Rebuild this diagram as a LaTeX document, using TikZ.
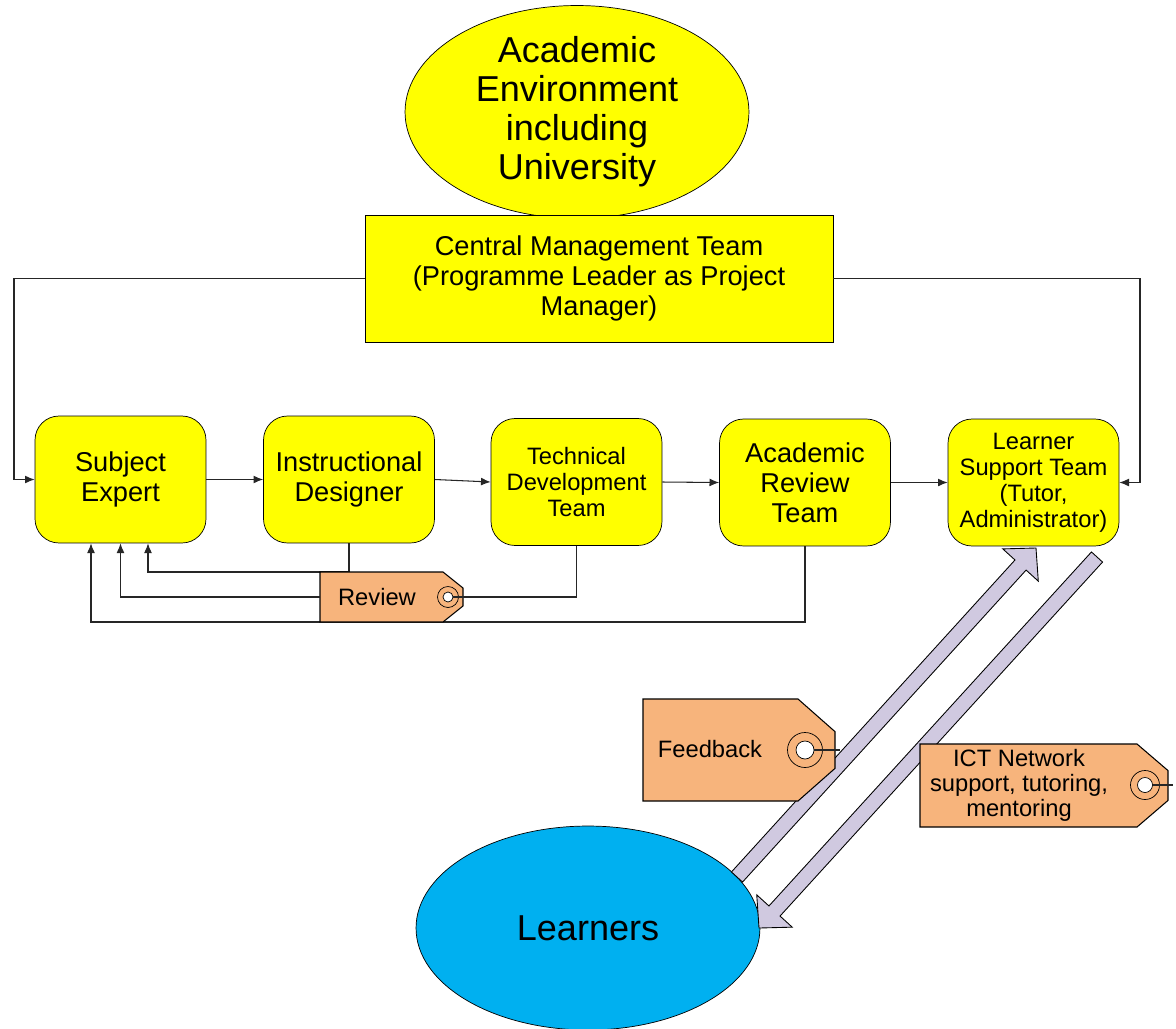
\documentclass[tikz,border=0pt]{standalone}
\usepackage{fontspec}
\setmainfont{Liberation Sans}
\usetikzlibrary{shapes.geometric,arrows.meta,calc}
\definecolor{boxYellow}{HTML}{FFFF00}
\definecolor{tagOrange}{HTML}{F7B47C}
\definecolor{pipeLilac}{HTML}{D0C9E0}
\definecolor{learnerBlue}{HTML}{00B0F0}
\newcommand{\boxWidth}[0]{3.42cm}
\newcommand{\boxHeight}[0]{2.54cm}
\newcommand{\stepFont}[0]{\fontsize{15.5}{17}\selectfont}
\newcommand{\smallFont}[0]{\fontsize{13.5}{14.8}\selectfont}
\newcommand{\bigFont}[0]{\fontsize{20.5}{22.2}\selectfont}
\newcommand{\tagOutline}[6]{%
  \filldraw[tag] (#2,#3) -- (#4,#3) -- (#5,{#3+0.32*(#6-#3)}) -- (#5,{#6-0.32*(#6-#3)}) -- (#4,#6) -- (#2,#6) -- cycle;
  \coordinate (#1-nw) at (#2,#3);
  \coordinate (#1-west) at (#2,{(#3+#6)/2});
  \coordinate (#1-sw) at (#2,#6);
}
\newcommand{\fatArrow}[3]{%
  \coordinate (#3-base) at ($(#2)!0.46cm!(#1)$);
  \filldraw[pipe] ($(#1)!0.15cm!90:(#2)$) -- ($(#3-base)!0.15cm!-90:(#1)$) -- ($(#3-base)!0.48cm!-90:(#1)$) -- (#2) -- ($(#3-base)!0.48cm!90:(#1)$) -- ($(#3-base)!0.15cm!90:(#1)$) -- ($(#1)!0.15cm!-90:(#2)$) -- cycle;
}

\begin{document}
\begin{tikzpicture}[x=0.02cm, y=-0.02cm, >={Latex[length=5.5pt,width=4.5pt]}]
  \tikzset{
    stage/.style={draw, fill=boxYellow, rounded corners=0.48cm, minimum width=\boxWidth, minimum height=\boxHeight, align=center, inner sep=2pt},
    cloud/.style={ellipse, draw, inner sep=0pt, align=center, font=\bigFont},
    link/.style={draw=black!85, line width=0.6pt},
    tag/.style={fill=tagOrange, draw, line width=0.6pt},
    tagtext/.style={align=center, font=\smallFont},
    eye/.style={circle, draw, inner sep=0pt},
    pipe/.style={fill=pipeLilac, draw, line width=0.5pt}
  }
  \useasboundingbox (0,0) rectangle (1176,1028);
  \node[cloud, fill=boxYellow, minimum width=6.88cm, minimum height=4.02cm] (uni) at (577,112) {Academic\\Environment\\including\\University};
  \node[draw, fill=boxYellow, minimum width=9.36cm, minimum height=2.54cm, align=center, font=\stepFont] (cmt) at (599,278.5) {Central Management Team\\(Programme Leader as Project\\Manager)};
  \node[stage, font=\stepFont] (se) at (120.5,479.5) {Subject\\Expert};
  \node[stage, font=\stepFont] (id) at (349,479.5) {Instructional\\Designer};
  \node[stage, font=\smallFont] (tdt) at (576.5,482) {Technical\\Development\\Team};
  \node[stage, font=\stepFont] (art) at (805,482.5) {Academic\\Review\\Team};
  \node[stage, font=\smallFont] (lst) at (1033.5,482.5) {Learner\\Support Team\\(Tutor,\\Administrator)};
  \coordinate (rail-l) at (14,400);
  \coordinate (rail-r) at (1140,400);
  \draw[link, ->] (cmt.west) -| (rail-l) |- (se.west);
  \draw[link, ->] (cmt.east) -| (rail-r) |- (lst.east);
  \draw[link, ->] (se.east) -- (id.west);
  \draw[link, ->] (id.east) -- (tdt.west);
  \draw[link, ->] (tdt.east) -- (art.west);
  \draw[link, ->] (art.east) -- (lst.west);
  \coordinate (se-foot-1) at ([xshift=0.55cm]se.south);
  \coordinate (se-foot-2) at (se.south);
  \coordinate (se-foot-3) at ([xshift=-0.59cm]se.south);
  \coordinate (review-nw) at (320,572);
  \coordinate (review-sw) at (320,622);
  \draw[link, ->] (id.south) |- (review-nw) -| (se-foot-1);
  \draw[link, ->] (art.south) |- (review-sw) -| (se-foot-3);
  \tagOutline{review}{320}{572}{443}{463}{622}
  \node[tagtext] (review) at (377,597) {Review};
  \node[eye, minimum size=0.42cm] (review-hole) at (448,597) {};
  \node[eye, fill=white, minimum size=0.2cm] (review-eye) at (448,597) {};
  \draw[link] (review-eye.east) -| (tdt.south);
  \draw[link, ->] (review-west) -| (se-foot-2);
  \node[cloud, fill=learnerBlue, minimum width=6.88cm, minimum height=4.08cm] (learners) at (588,928) {Learners};
  \coordinate (up-tail) at (737,877);
  \coordinate (up-tip) at (1036,548);
  \coordinate (down-tail) at (1097,557);
  \coordinate (down-tip) at (759,928);
  \fatArrow{up-tail}{up-tip}{up}
  \fatArrow{down-tail}{down-tip}{down}
  \tagOutline{feedback}{643}{699}{798}{835}{801}
  \node[tagtext] (feedback) at (710,749) {Feedback};
  \node[eye, minimum size=0.7cm] (feedback-hole) at (805,750) {};
  \node[eye, fill=white, minimum size=0.36cm] (feedback-eye) at (805,750) {};
  \coordinate (feedback-end) at (840,750);
  \draw[link] (feedback-eye.east) -- (feedback-end);
  \tagOutline{ict}{920}{744}{1137}{1168}{827}
  \node[tagtext, font=\fontsize{13.5}{14.3}\selectfont] (ict) at (1019,785) {ICT Network\\support, tutoring,\\mentoring};
  \node[eye, minimum size=0.58cm] (ict-hole) at (1145,785) {};
  \node[eye, fill=white, minimum size=0.3cm] (ict-eye) at (1145,785) {};
  \coordinate (ict-end) at (1173,785);
  \draw[link] (ict-eye.east) -- (ict-end);
\end{tikzpicture}
\end{document}
